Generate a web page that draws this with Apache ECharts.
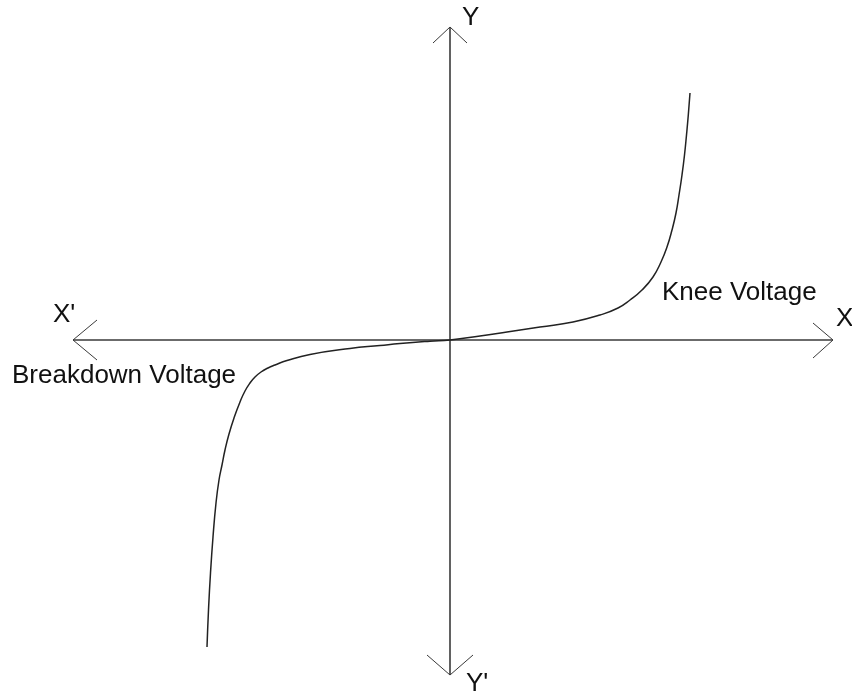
<!DOCTYPE html>
<html>
<head>
<meta charset="utf-8">
<script src="https://cdn.jsdelivr.net/npm/echarts@6/dist/echarts.min.js"></script>
<style>
  html, body { margin: 0; padding: 0; background: #fff; }
  #chart { width: 852px; height: 694px; }
</style>
</head>
<body>
<div id="chart"></div>
<script>
// diode V-I characteristic, origin at 0,0 (units)
var forwardBranch = [[0,0],[30,4],[57,8],[90,13],[123,18],[150,25],[168,32],[180,40],[192,50],[203,63],[211,78],[217,93],[222,110],[226,127],[229,145],[232,165],[234.5,185],[236.5,205],[238.3,225],[240,247]];
var reverseBranch = [[-243,-307],[-241.5,-270],[-239.5,-233],[-237,-197],[-234,-163],[-231,-140],[-228,-125],[-225,-110],[-221,-94],[-216,-78],[-210,-62],[-205,-51],[-200,-43],[-195,-37],[-189,-32],[-182,-28],[-175,-25],[-163,-20.5],[-140,-14.5],[-100,-8.5],[-70,-5.5],[-50,-3.5],[-20,-1.2],[0,0]];

// axis lines and open arrow heads
var xAxisLine = [[-377,0],[383,0]];
var yAxisLine = [[0,313],[0,-335]];
var arrowRight = [[363,17],[383,0],[363,-18]];
var arrowLeft = [[-353,20],[-377,0],[-353,-20]];
var arrowUp = [[-17,297],[0,313],[17,297]];
var arrowDown = [[-23,-315],[0,-335],[23,-315]];

var curve = reverseBranch.concat(forwardBranch.slice(1));

var myChart = echarts.init(document.getElementById('chart'));

var txtFont = '26px "Liberation Sans", Arial, sans-serif';

function axisSeries(data, w) {
    return {
        type: 'line',
        data: data,
        symbol: 'none',
        silent: true,
        lineStyle: { color: '#3a3a3a', width: w }
    };
}

option = {
    animation: false,
    backgroundColor: '#fff',
    grid: { left: 0, right: 0, top: 0, bottom: 0 },
    xAxis: { type: 'value', min: -450, max: 402, show: false },
    yAxis: { type: 'value', min: -354, max: 340, show: false },
    series: [
        axisSeries(xAxisLine, 1.6),
        axisSeries(yAxisLine, 1.6),
        axisSeries(arrowRight, 1),
        axisSeries(arrowLeft, 1),
        axisSeries(arrowUp, 1),
        axisSeries(arrowDown, 1),
        {
            type: 'line',
            data: curve,
            symbol: 'none',
            smooth: 0.5,
            lineStyle: { color: '#222', width: 1.5 }
        }
    ],
    graphic: [
        { type: 'text', left: 462, top: 5, style: { text: 'Y', font: txtFont, fill: '#111' } },
        { type: 'text', left: 466, top: 671, style: { text: "Y'", font: txtFont, fill: '#111' } },
        { type: 'text', left: 53, top: 302, style: { text: "X'", font: txtFont, fill: '#111' } },
        { type: 'text', left: 836, top: 306, style: { text: 'X', font: txtFont, fill: '#111' } },
        { type: 'text', left: 662, top: 280, style: { text: 'Knee Voltage', font: txtFont, fill: '#111' } },
        { type: 'text', left: 12, top: 363, style: { text: 'Breakdown Voltage', font: txtFont, fill: '#111' } }
    ]
};

myChart.setOption(option);

window.addEventListener('resize', function () {
    myChart.resize();
});
</script>
</body>
</html>
